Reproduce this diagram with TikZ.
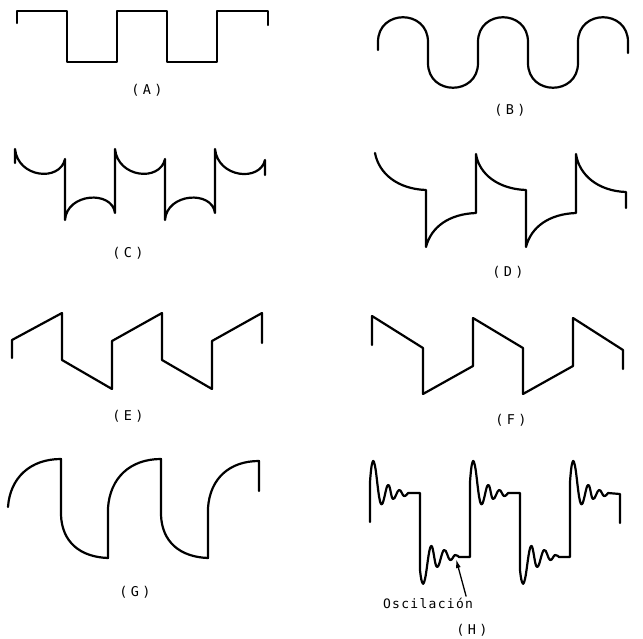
\documentclass[tikz,border=0pt]{standalone}
\usepackage{fontspec}
\newfontfamily\lblfont[LetterSpace=25]{DejaVu Sans Mono}
\newfontfamily\oscfont[LetterSpace=10]{DejaVu Sans Mono}
\usetikzlibrary{arrows.meta, calc, positioning}

\begin{document}
\begin{tikzpicture}[x=1pt, y=-1pt]%{{{
        \tikzstyle{w} = [line width=2.2pt, line join=round, line cap=round];
        \tikzstyle{lbl} = [font=\lblfont\fontsize{13.5}{15}\selectfont, inner sep=1pt];

        \useasboundingbox (0,0) rectangle (643,639);

        % (A) square
        \draw [w] (17,23) -- (17,11)
            \foreach \p in {0, 100}{
                -- (67+\p,11) -- (67+\p,62) -- (117+\p,62) -- (117+\p,11)
            } -- (268,11) -- (268,25);
        \node [lbl] (la) at (147,90) {(A)};

        % (B) sine
        \draw [w] (378,50) -- (378,42)
            \foreach \p in {0, 100}{
                .. controls (378+\p,9) and (428+\p,9) .. (428+\p,42)
                -- (428+\p,63)
                .. controls (428+\p,96) and (478+\p,96) .. (478+\p,63)
                -- (478+\p,42)
            } .. controls (578,9) and (628,9) .. (628,42) -- (628,53);
        \node [lbl] (lb) at (510,110) {(B)};

        % (C)
        \draw [w] (15,163) -- (15,149)
            \foreach \p in {0, 100}{
                .. controls (18+\p,178) and (60+\p,182) .. (65+\p,159)
                -- (65+\p,220)
                .. controls (67+\p,193) and (112+\p,190) .. (115+\p,213)
                -- (115+\p,149)
            } .. controls (218,178) and (260,182) .. (265,160) -- (265,175);
        \node [lbl] (lc) at (128,253) {(C)};

        % (D)
        \draw [w] (375,153)
            \foreach \p in {0, 100}{
                .. controls (379+\p,174) and (398+\p,189) .. (426+\p,190)
                -- (426+\p,247)
                .. controls (431+\p,227) and (449+\p,214) .. (476+\p,213)
                -- (476+\p,154)
            } .. controls (579,175) and (598,191) .. (626,192) -- (626,208);
        \node [lbl] (ld) at (508,272) {(D)};

        % (E)
        \draw [w] (12,358) -- (12,340)
            \foreach \p in {0, 100}{
                -- (62+\p,313) -- (62+\p,360) -- (112+\p,389) -- (112+\p,341)
            } -- (262,313) -- (262,343);
        \node [lbl] (le) at (128,416) {(E)};

        % (F)
        \draw [w] (372,345) -- (372,316)
            \foreach \p in {0, 100}{
                -- (423+\p,348) -- (423+\p,394) -- (473+\p,366) -- (473+\p,318)
            } -- (623,350) -- (623,369);
        \node [lbl] (lf) at (511,420) {(F)};

        % (G)
        \draw [w] (8,507)
            \foreach \p in {0, 100}{
                .. controls (10+\p,478) and (30+\p,459) .. (61+\p,459)
                -- (61+\p,515)
                .. controls (62+\p,542) and (80+\p,557) .. (108+\p,558)
                -- (108+\p,508)
            } .. controls (210,478) and (230,461) .. (259,461) -- (259,491);
        \node [lbl] (lg) at (135,592) {(G)};

        % (H) ringing
        \draw [w] (370,522)
            \foreach \p in {0, 100}{
                -- plot [smooth, tension=0.7] coordinates {
                    (370+\p,482) (372+\p,464) (375+\p,466) (381+\p,504)
                    (388+\p,485) (393+\p,499) (399+\p,490) (404+\p,496) (408+\p,493)}
                -- (420+\p,493) -- (420+\p,570)
                -- plot [smooth, tension=0.7] coordinates {
                    (420+\p,570) (422+\p,582) (425+\p,579) (431+\p,546)
                    (437+\p,567) (444+\p,550) (450+\p,560) (455+\p,555) (459+\p,557)}
                -- (470+\p,557) -- (470+\p,482)
            } -- plot [smooth, tension=0.7] coordinates {
                    (570,482) (572,464) (575,466) (581,504)
                    (588,485) (593,499) (599,490) (604,496) (608,493)}
            -- (620,494) -- (620,523);
        \node [font=\oscfont\fontsize{13}{15}\selectfont, inner sep=1pt] (losc) at (428,603) {Oscilación};
        \coordinate (osctip) at (456,559);
        \coordinate (oscfrom) at ([xshift=-8pt]losc.north east);
        \draw [line width=1.3pt, -{Latex[length=9pt, width=5pt]}] (oscfrom) -- (osctip);
        \node [lbl] (lh) at (472,630) {(H)};
    \end{tikzpicture}
\end{document}
